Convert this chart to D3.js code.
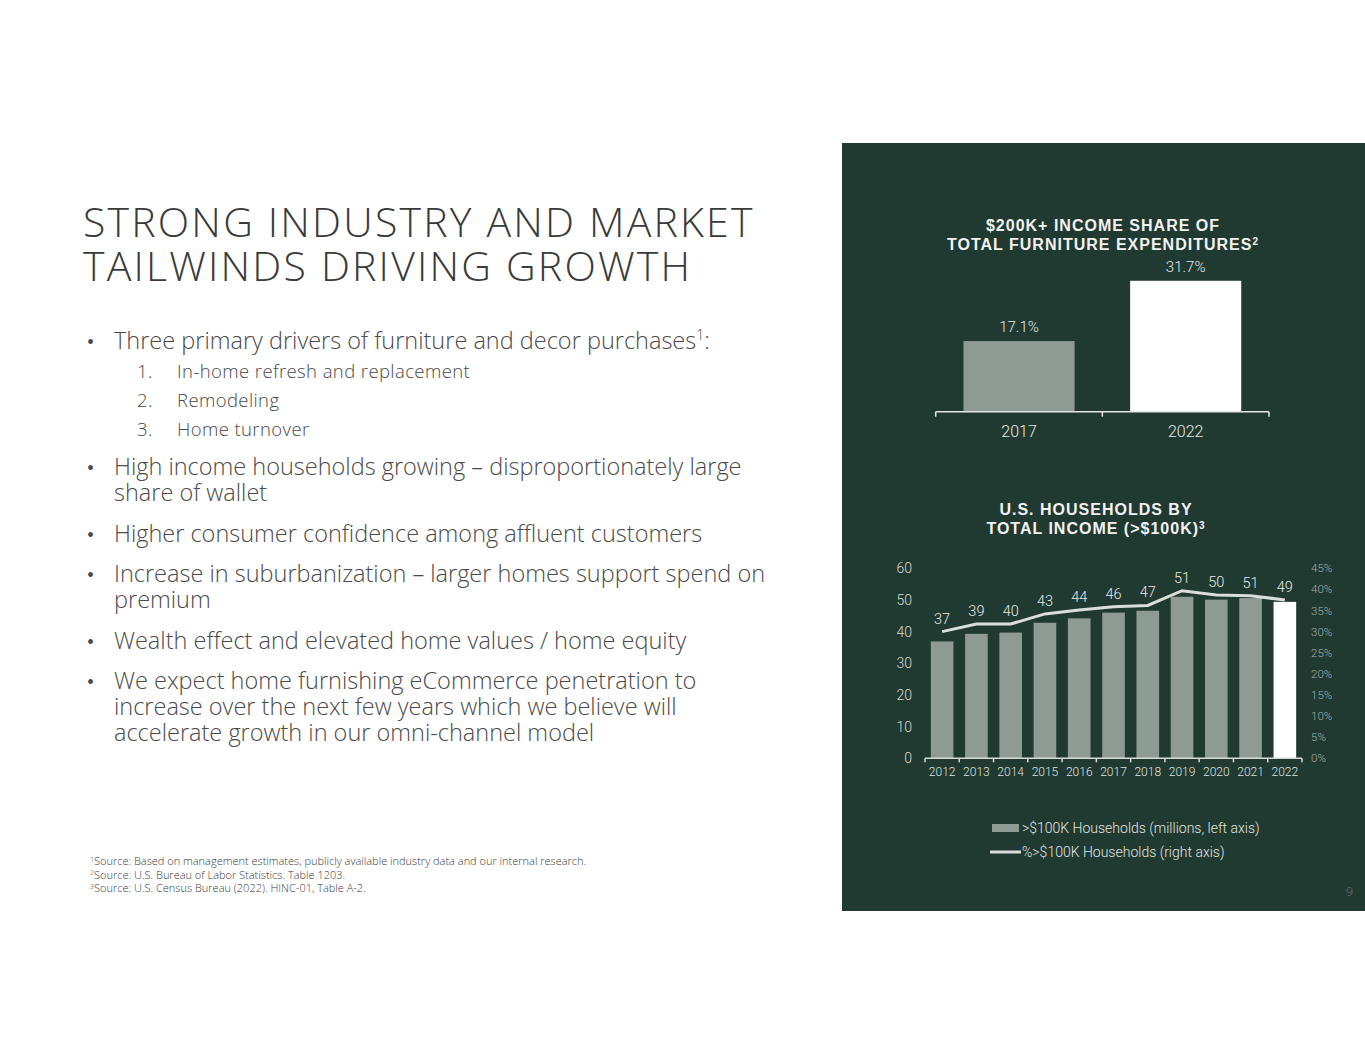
<!DOCTYPE html>
<html lang="en">
<head>
  <meta charset="UTF-8">
  <title>Industry tailwinds</title>
  <style>
    body { margin: 0; background: #fff; }
    svg { display: block; }
    .light { font-family: 'Roboto', 'Liberation Sans', sans-serif; font-weight: 300; }
    .body { font-family: 'Open Sans', 'Liberation Sans', sans-serif; font-weight: 300; }
    .head { font-family: 'Liberation Sans', Arial, sans-serif; font-weight: bold; }
  </style>
</head>
<body>
<svg width="1365" height="1055"></svg>
<script src="https://cdnjs.cloudflare.com/ajax/libs/d3/7.8.5/d3.min.js"></script>
<script>
  // Top chart data
  const shareYears = ['2017', '2022'];
  const shareValues = [17.1, 31.7];

  // Bottom chart data
  const years = ['2012', '2013', '2014', '2015', '2016', '2017', '2018', '2019', '2020', '2021', '2022'];
  const households = [36.9, 39.3, 39.7, 42.8, 44.2, 46.0, 46.6, 51.0, 50.1, 50.6, 49.4];
  const pctHouseholds = [30.0, 31.8, 31.8, 34.2, 35.1, 35.9, 36.2, 39.7, 38.7, 38.5, 37.5];
  const leftTicks = [0, 10, 20, 30, 40, 50, 60];
  const rightTicks = [0, 5, 10, 15, 20, 25, 30, 35, 40, 45];

  const bullets = [
    ['High income households growing \u2013 disproportionately large', 'share of wallet'],
    ['Higher consumer confidence among affluent customers'],
    ['Increase in suburbanization \u2013 larger homes support spend on', 'premium'],
    ['Wealth effect and elevated home values / home equity'],
    ['We expect home furnishing eCommerce penetration to', 'increase over the next few years which we believe will', 'accelerate growth in our omni-channel model']
  ];
  const drivers = ['In-home refresh and replacement', 'Remodeling', 'Home turnover'];
  const notes = [
    ['1', 'Source: Based on management estimates, publicly available industry data and our internal research.'],
    ['2', 'Source: U.S. Bureau of Labor Statistics. Table 1203.'],
    ['3', 'Source: U.S. Census Bureau (2022). HINC-01, Table A-2.']
  ];

  const svg = d3.select('svg');
  const grey = '#8e9a94', lineCol = '#d9dedb', panel = '#213a31';

  // ---------- left side text ----------
  const title = svg.append('text').attr('class', 'body')
    .attr('font-size', 41).attr('letter-spacing', 2.2).attr('fill', '#3a3a3a');
  title.append('tspan').attr('x', 83).attr('y', 237).text('STRONG INDUSTRY AND MARKET');
  title.append('tspan').attr('x', 83).attr('y', 281).text('TAILWINDS DRIVING GROWTH');

  const bodyCol = '#4a4a4a';
  // first bullet with sub list
  svg.append('text').attr('x', 87).attr('y', 349).attr('font-size', 20).attr('fill', bodyCol).text('\u2022');
  const b1 = svg.append('text').attr('class', 'body').attr('x', 114).attr('y', 349)
    .attr('font-size', 23.5).attr('fill', bodyCol);
  b1.append('tspan').text('Three primary drivers of furniture and decor purchases');
  b1.append('tspan').attr('font-size', 14).attr('dy', -9).text('1');
  b1.append('tspan').attr('dy', 9).text(':');

  const sub = svg.append('text').attr('class', 'body')
    .attr('font-size', 18.5).attr('letter-spacing', 0.4).attr('fill', bodyCol);
  drivers.forEach((d, i) => {
    const y = 378 + i * 29;
    sub.append('tspan').attr('x', 137).attr('y', y).text((i + 1) + '.');
    sub.append('tspan').attr('x', 177).attr('y', y).text(d);
  });

  let by = 475;
  bullets.forEach(lines => {
    svg.append('text').attr('x', 87).attr('y', by).attr('font-size', 20).attr('fill', bodyCol).text('\u2022');
    const t = svg.append('text').attr('class', 'body').attr('font-size', 23.5).attr('fill', bodyCol);
    lines.forEach((l, j) => {
      t.append('tspan').attr('x', 114).attr('y', by + j * 26).text(l);
    });
    by += lines.length * 26 + 14.5;
  });

  const foot = svg.append('text').attr('class', 'body').attr('font-size', 11).attr('fill', '#3a3a3a');
  notes.forEach((n, i) => {
    foot.append('tspan').attr('x', 90).attr('y', 861.5 + i * 13.5).attr('font-size', 7).text(n[0]);
    foot.append('tspan').attr('y', 865 + i * 13.5).text(n[1]);
  });

  // ---------- right panel ----------
  svg.append('rect').attr('x', 842).attr('y', 143).attr('width', 523).attr('height', 768).attr('fill', panel);

  // top chart title
  const t1 = svg.append('text').attr('class', 'head').attr('text-anchor', 'middle')
    .attr('font-size', 16).attr('fill', '#f2f2f2').attr('letter-spacing', 1);
  t1.append('tspan').attr('x', 1103).attr('y', 231).text('$200K+ INCOME SHARE OF');
  t1.append('tspan').attr('x', 1103).attr('y', 250).text('TOTAL FURNITURE EXPENDITURES');
  t1.append('tspan').attr('font-size', 10).attr('dy', -5).text('2');

  const x1 = d3.scaleBand().domain(shareYears).range([935.7, 1269]).paddingInner(1 / 3).paddingOuter(1 / 6);
  const y1 = d3.scaleLinear().domain([0, 35]).range([411.7, 411.7 - 35 * 4.13]);

  svg.append('g').selectAll('rect').data(shareYears).join('rect')
    .attr('x', d => x1(d)).attr('width', x1.bandwidth())
    .attr('y', (d, i) => y1(shareValues[i])).attr('height', (d, i) => y1(0) - y1(shareValues[i]))
    .attr('fill', (d, i) => i === shareYears.length - 1 ? '#ffffff' : grey);

  svg.append('g').selectAll('text').data(shareYears).join('text').attr('class', 'light')
    .attr('x', d => x1(d) + x1.bandwidth() / 2).attr('y', (d, i) => y1(shareValues[i]) - 9)
    .attr('text-anchor', 'middle').attr('font-size', 15).attr('fill', '#e6e9e7')
    .text((d, i) => shareValues[i].toFixed(1) + '%');

  const ax1 = svg.append('g').attr('stroke', '#e3e6e4').attr('stroke-width', 1.5);
  ax1.append('line').attr('x1', x1.range()[0]).attr('x2', x1.range()[1]).attr('y1', y1(0)).attr('y2', y1(0));
  const edges1 = shareYears.map(d => x1(d) - x1.step() * x1.paddingOuter()).concat([x1.range()[1]]);
  ax1.selectAll('.tk').data(edges1).join('line')
    .attr('x1', d => d).attr('x2', d => d).attr('y1', y1(0)).attr('y2', y1(0) + 5);

  svg.append('g').selectAll('text').data(shareYears).join('text').attr('class', 'light')
    .attr('x', d => x1(d) + x1.bandwidth() / 2).attr('y', 437)
    .attr('text-anchor', 'middle').attr('font-size', 16).attr('fill', '#e6e9e7').text(d => d);

  // bottom chart title
  const t2 = svg.append('text').attr('class', 'head').attr('text-anchor', 'middle')
    .attr('font-size', 16).attr('fill', '#f2f2f2').attr('letter-spacing', 1);
  t2.append('tspan').attr('x', 1096).attr('y', 515).text('U.S. HOUSEHOLDS BY');
  t2.append('tspan').attr('x', 1096).attr('y', 534).text('TOTAL INCOME (>$100K)');
  t2.append('tspan').attr('font-size', 10).attr('dy', -5).text('3');

  const x2 = d3.scaleBand().domain(years).range([925, 1302]).paddingInner(0.34).paddingOuter(0.17);
  const yL = d3.scaleLinear().domain([0, 60]).range([758.3, 568.3]);
  const yR = d3.scaleLinear().domain([0, 45]).range([758.3, 568.3]);

  svg.append('g').selectAll('rect').data(years).join('rect')
    .attr('x', d => x2(d)).attr('width', x2.bandwidth())
    .attr('y', (d, i) => yL(households[i])).attr('height', (d, i) => yL(0) - yL(households[i]))
    .attr('fill', (d, i) => i === years.length - 1 ? '#ffffff' : grey);

  const line = d3.line().x((d, i) => x2(years[i]) + x2.bandwidth() / 2).y(d => yR(d));
  svg.append('path').datum(pctHouseholds).attr('d', line)
    .attr('fill', 'none').attr('stroke', lineCol).attr('stroke-width', 3);

  // value labels sit above whichever is higher, bar or line
  svg.append('g').selectAll('text').data(years).join('text').attr('class', 'light')
    .attr('x', d => x2(d) + x2.bandwidth() / 2)
    .attr('y', (d, i) => Math.min(yL(households[i]), yR(pctHouseholds[i])) - 8)
    .attr('text-anchor', 'middle').attr('font-size', 14.5).attr('fill', '#e6e9e7')
    .text((d, i) => Math.round(households[i]));

  const ax2 = svg.append('g').attr('stroke', '#d5dad7').attr('stroke-width', 1.5);
  ax2.append('line').attr('x1', x2.range()[0]).attr('x2', x2.range()[1]).attr('y1', yL(0)).attr('y2', yL(0));
  const edges2 = years.map(d => x2(d) - x2.step() * x2.paddingOuter()).concat([x2.range()[1]]);
  ax2.selectAll('.tk').data(edges2).join('line')
    .attr('x1', d => d).attr('x2', d => d).attr('y1', yL(0)).attr('y2', yL(0) + 4);

  svg.append('g').selectAll('text').data(years).join('text').attr('class', 'light')
    .attr('x', d => x2(d) + x2.bandwidth() / 2).attr('y', 776)
    .attr('text-anchor', 'middle').attr('font-size', 12).attr('fill', '#dfe3e1').text(d => d);

  svg.append('g').selectAll('text').data(leftTicks).join('text').attr('class', 'light')
    .attr('x', 912).attr('y', d => yL(d)).attr('dy', '0.35em')
    .attr('text-anchor', 'end').attr('font-size', 14).attr('fill', '#d8dcda').text(d => d);

  svg.append('g').selectAll('text').data(rightTicks).join('text').attr('class', 'light')
    .attr('x', 1311).attr('y', d => yR(d)).attr('dy', '0.35em')
    .attr('font-size', 11.5).attr('fill', '#a3aea9').text(d => d + '%');

  // legend
  svg.append('rect').attr('x', 992).attr('y', 824).attr('width', 27).attr('height', 8).attr('fill', grey);
  svg.append('text').attr('class', 'light').attr('x', 1022).attr('y', 833)
    .attr('font-size', 14).attr('fill', '#e0e4e2').text('>$100K Households (millions, left axis)');
  svg.append('line').attr('x1', 990).attr('x2', 1021).attr('y1', 852).attr('y2', 852)
    .attr('stroke', lineCol).attr('stroke-width', 3);
  svg.append('text').attr('class', 'light').attr('x', 1022).attr('y', 857)
    .attr('font-size', 14).attr('fill', '#e0e4e2').text('%>$100K Households (right axis)');

  svg.append('text').attr('class', 'light').attr('x', 1346).attr('y', 896)
    .attr('font-size', 13).attr('fill', '#5f7068').text('9');
</script>
</body>
</html>
